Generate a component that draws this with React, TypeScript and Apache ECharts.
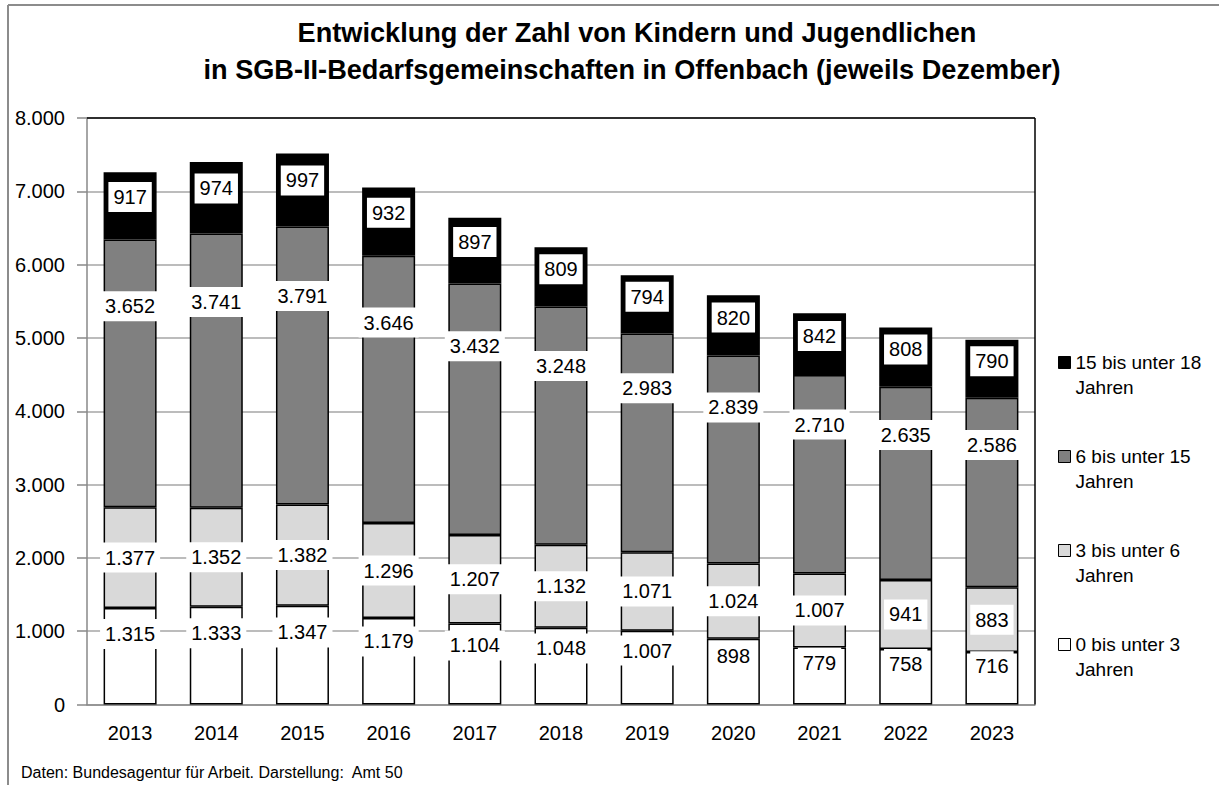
import React, { useEffect, useRef } from "react";
import * as echarts from "echarts";

const years = ["2013", "2014", "2015", "2016", "2017", "2018", "2019", "2020", "2021", "2022", "2023"];
const age0to3 = [1315, 1333, 1347, 1179, 1104, 1048, 1007, 898, 779, 758, 716];
const age3to6 = [1377, 1352, 1382, 1296, 1207, 1132, 1071, 1024, 1007, 941, 883];
const age6to15 = [3652, 3741, 3791, 3646, 3432, 3248, 2983, 2839, 2710, 2635, 2586];
const age15to18 = [917, 974, 997, 932, 897, 809, 794, 820, 842, 808, 790];
const seriesNames = [
  "0 bis unter 3 Jahren",
  "3 bis unter 6 Jahren",
  "6 bis unter 15 Jahren",
  "15 bis unter 18 Jahren",
];
const yMin = 0;
const yMax = 8000;
const yInterval = 1000;

const titleLine1 = "Entwicklung der Zahl von Kindern und Jugendlichen";
const titleLine2 = "in SGB-II-Bedarfsgemeinschaften in Offenbach (jeweils Dezember)";
const footerText = "Daten: Bundesagentur für Arbeit. Darstellung:  Amt 50";

const FONT = "'Liberation Sans', Arial, sans-serif";

const fmt = (v: number) => String(v).replace(/\B(?=(\d{3})+(?!\d))/g, ".");

export default function App() {
  const ref = useRef<HTMLDivElement>(null);
  useEffect(() => {
    document.body.style.margin = "0";
    const chart = echarts.init(ref.current!, undefined, { renderer: "svg" });
    const G_LEFT = 87;
    const G_TOP = 118;
    const G_RIGHT = 1035;
    const G_BOTTOM = 704.5;

    const labelBase = {
      show: true,
      color: "#000",
      fontSize: 20,
      fontFamily: FONT,
      backgroundColor: "#fff",
      padding: [5, 5],
      align: "center",
      verticalAlign: "middle",
      formatter: (p: any) => fmt(p.value),
    };
    const colors = ["#ffffff", "#d9d9d9", "#808080", "#000000"];
    const labelPos: any[] = [["50%", "27%"], "inside", ["50%", "25%"], ["50%", "37%"]];
    const dataSets = [age0to3, age3to6, age6to15, age15to18];

    const series = dataSets.map((d, i) => ({
      name: seriesNames[i],
      type: "bar",
      stack: "total",
      barWidth: 53,
      data: d,
      itemStyle: { color: colors[i], borderColor: "#000", borderWidth: 1.5 },
      label: { ...labelBase, position: labelPos[i] },
      emphasis: { disabled: true },
    }));

    const titleStyle = {
      fontFamily: FONT,
      fontSize: 28,
      fontWeight: "bold",
      fill: "#000",
      align: "center",
      verticalAlign: "middle",
    };

    chart.setOption({
      animation: false,
      backgroundColor: "#fff",
      textStyle: { fontFamily: FONT },
      legend: {
        orient: "vertical",
        left: 1058,
        top: 325,
        padding: 0,
        itemGap: 19,
        itemWidth: 12,
        itemHeight: 12,
        itemStyle: { borderColor: "#000", borderWidth: 1 },
        icon: "rect",
        data: [...seriesNames].reverse(),
        formatter: (name: string) => "\n" + name.replace(/ Jahren$/, "\nJahren"),
        textStyle: { fontFamily: FONT, fontSize: 19, lineHeight: 25, color: "#000" },
        selectedMode: false,
      },
      grid: {
        left: G_LEFT,
        top: G_TOP,
        right: 1219 - G_RIGHT,
        bottom: 785 - G_BOTTOM,
        containLabel: false,
        outerBoundsMode: "none",
      },
      xAxis: {
        type: "category",
        data: years,
        axisLine: { show: true, lineStyle: { color: "#898989", width: 1.5 } },
        axisTick: { show: false },
        axisLabel: { color: "#000", fontSize: 20, fontFamily: FONT, margin: 18 },
      },
      yAxis: {
        type: "value",
        min: yMin,
        max: yMax,
        interval: yInterval,
        axisLine: { show: true, lineStyle: { color: "#898989", width: 1.5 } },
        axisTick: { show: true, length: 10, lineStyle: { color: "#898989", width: 1.5 } },
        axisLabel: {
          color: "#000",
          fontSize: 20,
          fontFamily: FONT,
          margin: 22,
          formatter: (v: number) => fmt(v),
        },
        splitLine: { show: true, lineStyle: { color: "#a6a6a6", width: 1.5 } },
      },
      series,
      graphic: [
        { type: "line", shape: { x1: 8, y1: 5, x2: 1219, y2: 5 }, style: { stroke: "#8c8c8c", lineWidth: 2 }, z: 100 },
        { type: "line", shape: { x1: 8, y1: 5, x2: 8, y2: 785 }, style: { stroke: "#8c8c8c", lineWidth: 2 }, z: 100 },
        { type: "line", shape: { x1: G_LEFT, y1: G_TOP, x2: G_RIGHT, y2: G_TOP }, style: { stroke: "#000", lineWidth: 1.5 }, z: 100 },
        { type: "line", shape: { x1: G_RIGHT, y1: G_TOP, x2: G_RIGHT, y2: G_BOTTOM }, style: { stroke: "#000", lineWidth: 1.5 }, z: 100 },
        { type: "text", x: 637, y: 32, scaleX: 0.97, style: { ...titleStyle, text: titleLine1 }, z: 100 },
        { type: "text", x: 632, y: 69, scaleX: 0.97, style: { ...titleStyle, text: titleLine2 }, z: 100 },
        {
          type: "text",
          x: 21,
          y: 772,
          style: { text: footerText, fontFamily: FONT, fontSize: 16, fill: "#000", verticalAlign: "middle" },
          z: 100,
        },
      ],
    });
    return () => chart.dispose();
  }, []);
  return <div ref={ref} style={{ position: "absolute", left: 0, top: 0, width: 1219, height: 785 }} />;
}
